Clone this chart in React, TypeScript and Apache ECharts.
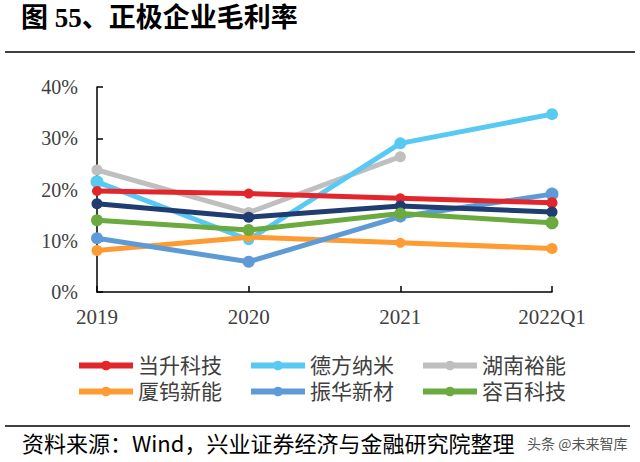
import React, { useEffect, useRef } from "react";
import * as echarts from "echarts";

const categories = ["2019", "2020", "2021", "2022Q1"];
const yTicks = [0, 10, 20, 30, 40];

const seriesNames = ["当升科技", "德方纳米", "湖南裕能", "厦钨新能", "振华新材", "容百科技", "均值"];
const dangsheng = [19.7, 19.2, 18.3, 17.4];
const defang = [21.5, 10.2, 29.0, 34.7];
const hunan = [23.8, 15.5, 26.4, null];
const xiawu = [8.1, 10.7, 9.6, 8.5];
const zhenhua = [10.5, 5.9, 14.7, 19.1];
const rongbai = [14.0, 12.1, 15.3, 13.5];
const average = [17.2, 14.6, 16.8, 15.6];

const colors = {
  当升科技: "#E3262B",
  德方纳米: "#58C9F3",
  湖南裕能: "#BFBFBF",
  厦钨新能: "#FF9B33",
  振华新材: "#5E9BD6",
  容百科技: "#6AAA3F",
  均值: "#1F3D70",
};

const FONT = "'Liberation Serif', 'Noto Sans CJK SC', serif";

export default function App() {
  const ref = useRef<HTMLDivElement>(null);
  useEffect(() => {
    const chart = echarts.init(ref.current!, null, { renderer: "svg" });
    const mk = (name: string, data: (number | null)[], symbolSize: number[], z: number) => ({
      name,
      type: "line",
      data: data.map((v, i) => ({ value: v, symbolSize: symbolSize[i] })),
      symbol: "circle",
      symbolSize: 11,
      showSymbol: true,
      connectNulls: false,
      z,
      lineStyle: { width: 5, color: (colors as any)[name] },
      itemStyle: { color: (colors as any)[name] },
    });
    const legendText = { fontSize: 21, color: "#404040", fontFamily: FONT, width: 96 };
    const legendBase = {
      left: 71,
      itemWidth: 54,
      itemHeight: 12,
      itemGap: 26,
      textStyle: legendText,
      lineStyle: { width: 6 },
    };
    chart.setOption({
      animation: false,
      backgroundColor: "#fff",
      grid: { left: 97, right: 88, top: 87, bottom: 170, containLabel: false },
      xAxis: {
        type: "category",
        data: categories,
        boundaryGap: false,
        axisLine: { lineStyle: { color: "#000", width: 1.5 } },
        axisTick: { inside: true, length: 6, lineStyle: { color: "#000", width: 1.5 } },
        axisLabel: { fontSize: 21, color: "#404040", fontFamily: FONT, margin: 14 },
      },
      yAxis: {
        type: "value",
        min: yTicks[0],
        max: yTicks[yTicks.length - 1],
        interval: 10,
        splitLine: { show: false },
        axisLine: { show: true, lineStyle: { color: "#000", width: 1.5 } },
        axisTick: { show: true, inside: true, length: 6, lineStyle: { color: "#000", width: 1.5 } },
        axisLabel: { fontSize: 20, color: "#404040", fontFamily: FONT, margin: 19, formatter: "{value}%" },
      },
      legend: [
        { ...legendBase, data: seriesNames.slice(0, 3), top: 350 },
        { ...legendBase, data: seriesNames.slice(3, 6), top: 376 },
      ],
      series: [
        mk("湖南裕能", hunan, [11, 11, 11, 11], 2),
        mk("德方纳米", defang, [13, 11, 12, 12], 3),
        mk("厦钨新能", xiawu, [11, 10, 10, 11], 4),
        mk("振华新材", zhenhua, [12, 12, 12, 13], 5),
        mk("当升科技", dangsheng, [10, 10, 10, 11], 6),
        mk("均值", average, [11, 11, 11, 11], 7),
        mk("容百科技", rongbai, [12, 12, 12, 13], 8),
      ],
      graphic: [
        {
          type: "text",
          left: 21,
          top: 4,
          style: { text: "图 55、正极企业毛利率", fontSize: 27, fontWeight: "bold", fill: "#000", fontFamily: FONT },
        },
        { type: "line", shape: { x1: 5, y1: 52, x2: 635, y2: 52 }, style: { stroke: "#000", lineWidth: 1.5 } },
        { type: "line", shape: { x1: 5, y1: 426, x2: 630, y2: 426 }, style: { stroke: "#000", lineWidth: 1.5 } },
        {
          type: "text",
          left: 22,
          top: 431,
          style: { text: "资料来源：Wind，兴业证券经济与金融研究院整理", fontSize: 22, fill: "#000", fontFamily: "'Noto Sans CJK SC', sans-serif" },
        },
        {
          type: "text",
          left: 527,
          top: 436,
          style: { text: "头条 @未来智库", fontSize: 14, fill: "#555", fontFamily: "'Noto Sans CJK SC', sans-serif" },
        },
      ],
    });
    return () => chart.dispose();
  }, []);
  return <div ref={ref} style={{ position: "fixed", left: 0, top: 0, width: 640, height: 462 }} />;
}
